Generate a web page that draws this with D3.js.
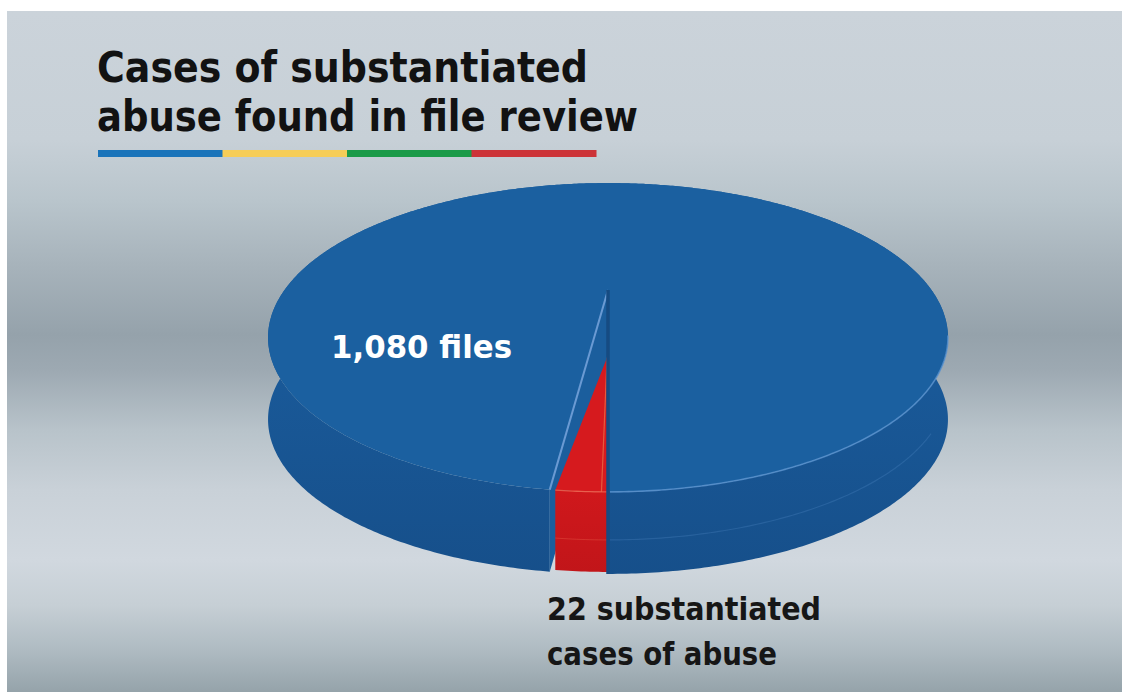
<!DOCTYPE html>
<html>
<head>
<meta charset="utf-8">
<script src="https://cdn.jsdelivr.net/npm/d3@7"></script>
<style>
  html, body { margin: 0; padding: 0; background: #fff; }
  svg { display: block; }
</style>
</head>
<body>
<svg id="chart" width="1122" height="692"></svg>
<script>
// data
const categories = ['Substantiated cases of abuse', 'Files reviewed']
const values = [22, 1080]
const sliceColors = ['#d61a1e', '#1b60a0']
const titleLines = ['Cases of substantiated', 'abuse found in file review']
const barColors = ['#1a74ba', '#f6cd58', '#1b9a48', '#cc3338']
const filesLabel = '1,080 files'
const abuseLabel = ['22 substantiated', 'cases of abuse']

const svg = d3.select('#chart')
const defs = svg.append('defs')

// background: brushed-metal style vertical gradient
const bgStops = [
  [11, '#cbd3da'], [140, '#c7d0d7'], [200, '#b9c5cc'], [265, '#a7b3bb'],
  [335, '#95a2ab'], [370, '#9da9b2'], [430, '#b8c3ca'], [490, '#c9d1d8'],
  [560, '#d1d8df'], [605, '#c6cfd5'], [650, '#afbbc2'], [692, '#95a3aa']
]
const bg = defs.append('linearGradient')
  .attr('id', 'bg')
  .attr('gradientUnits', 'userSpaceOnUse')
  .attr('x1', 0).attr('x2', 0).attr('y1', 11).attr('y2', 692)
bg.selectAll('stop')
  .data(bgStops)
  .join('stop')
  .attr('offset', d => (d[0] - 11) / 681)
  .attr('stop-color', d => d[1])

svg.append('rect')
  .attr('x', 7).attr('y', 11)
  .attr('width', 1115).attr('height', 681)
  .attr('fill', 'url(#bg)')

// title
const font = '"DejaVu Sans Condensed", "DejaVu Sans", sans-serif'
const titleWidths = [491, 541]
svg.append('g')
  .selectAll('text')
  .data(titleLines)
  .join('text')
  .attr('x', 97)
  .attr('y', (d, i) => 82 + i * 49)
  .attr('font-family', font)
  .attr('font-weight', 'bold')
  .attr('font-size', 42)
  .attr('fill', '#121212')
  .attr('textLength', (d, i) => titleWidths[i])
  .attr('lengthAdjust', 'spacingAndGlyphs')
  .text(d => d)

// coloured rule under the title
const barX = d3.scaleBand().domain(d3.range(barColors.length)).range([98, 596])
svg.append('g')
  .selectAll('rect')
  .data(barColors)
  .join('rect')
  .attr('x', (d, i) => barX(i))
  .attr('y', 150)
  .attr('width', barX.bandwidth() + 0.5)
  .attr('height', 7)
  .attr('fill', d => d)

// ---- 3D pie ----
const cx = 608
const apexY = 290
const persp = 0.3074
const tilt = -50.7
const rx = 323.5
const depth = 82

// project a point on the disc (radius r, angle th, 0 = back, clockwise) to screen
function proj (r, th, z) {
  const X = r * Math.sin(th)
  const Y = r * Math.cos(th)
  const w = 1 + persp * Y
  return [cx + rx * X / w, (tilt * Y + apexY) / w + (z || 0)]
}

function rim (a0, a1, z, n) {
  const steps = n || Math.max(4, Math.ceil(Math.abs(a1 - a0) / 0.01))
  return d3.range(steps + 1).map(i => proj(1, a0 + (a1 - a0) * i / steps, z))
}

const pie = d3.pie().sort(null).startAngle(Math.PI).endAngle(3 * Math.PI)
const arcs = pie(values)
const red = arcs[0]
const blue = arcs[1]
const line = d3.line()

const sideGrad = defs.append('linearGradient')
  .attr('id', 'side')
  .attr('gradientUnits', 'userSpaceOnUse')
  .attr('x1', 0).attr('x2', 0).attr('y1', 330).attr('y2', 580)
sideGrad.append('stop').attr('offset', 0).attr('stop-color', '#1a5b9b')
sideGrad.append('stop').attr('offset', 1).attr('stop-color', '#164f8a')

const redSide = defs.append('linearGradient')
  .attr('id', 'redside')
  .attr('gradientUnits', 'userSpaceOnUse')
  .attr('x1', 0).attr('x2', 0).attr('y1', 490).attr('y2', 580)
redSide.append('stop').attr('offset', 0).attr('stop-color', '#d0181c')
redSide.append('stop').attr('offset', 1).attr('stop-color', '#c01519')

const pieG = svg.append('g')

// blue outer wall
const blueSide = rim(blue.startAngle, blue.endAngle, 0)
  .concat(rim(blue.endAngle, blue.startAngle, depth))
pieG.append('path')
  .attr('d', line(blueSide) + 'Z')
  .attr('fill', 'url(#side)')

// blue top face
const blueTop = [proj(0, 0, 0)].concat(rim(blue.startAngle, blue.endAngle, 0))
pieG.append('path')
  .attr('d', line(blueTop) + 'Z')
  .attr('fill', sliceColors[1])

// rim highlights on the right-hand front
const front = blue.endAngle - 2 * Math.PI
pieG.append('path')
  .attr('d', line(rim(Math.PI / 2 + 0.3, front - 0.004, 0)))
  .attr('fill', 'none')
  .attr('stroke', '#5d95d1')
  .attr('stroke-width', 1.6)
  .attr('stroke-opacity', 0.75)
pieG.append('path')
  .attr('d', line(rim(Math.PI / 2 + 0.6, front - 0.004, 48)))
  .attr('fill', 'none')
  .attr('stroke', '#5d95d1')
  .attr('stroke-width', 1.2)
  .attr('stroke-opacity', 0.25)

// blue cut face seen through the gap
const cutFace = [proj(0, 0, 0), proj(1, blue.startAngle, 0),
  proj(1, blue.startAngle, depth), proj(0, 0, depth)]
pieG.append('path')
  .attr('d', line(cutFace) + 'Z')
  .attr('fill', '#1b5e9d')

// red slice: inset wedge sitting inside the gap
const rIn = 0.42
const redA0 = red.startAngle + 0.002
const redA1 = red.endAngle - 0.012
const redApex = proj(rIn, redA0 + 0.004, 0)
const redSidePts = rim(redA0, redA1, 0, 12).concat(rim(redA1, redA0, depth - 2, 12))
pieG.append('path')
  .attr('d', line(redSidePts) + 'Z')
  .attr('fill', 'url(#redside)')
pieG.append('path')
  .attr('d', line([redApex].concat(rim(redA0, redA1, 0, 12))) + 'Z')
  .attr('fill', sliceColors[0])
pieG.append('path')
  .attr('d', line([redApex, proj(1, redA0 + 0.012, 0)]))
  .attr('stroke', '#ea6a45')
  .attr('stroke-width', 1.2)
  .attr('stroke-opacity', 0.8)
pieG.append('path')
  .attr('d', line(rim(redA0, redA1, 0, 12)))
  .attr('fill', 'none')
  .attr('stroke', '#ee6650')
  .attr('stroke-width', 1.3)
  .attr('stroke-opacity', 0.8)
pieG.append('path')
  .attr('d', line(rim(redA0, redA1, 48, 12)))
  .attr('fill', 'none')
  .attr('stroke', '#ee6650')
  .attr('stroke-width', 1)
  .attr('stroke-opacity', 0.35)

// edges of the cut
pieG.append('path')
  .attr('d', line([proj(0, 0, 0), proj(1, blue.startAngle, 0)]))
  .attr('stroke', '#6a9ad3')
  .attr('stroke-width', 2)
pieG.append('path')
  .attr('d', line([proj(0, 0, 0), proj(1, blue.endAngle, 0), proj(1, blue.endAngle, depth)]))
  .attr('fill', 'none')
  .attr('stroke', '#164b82')
  .attr('stroke-width', 3.5)

// labels
svg.append('text')
  .attr('x', 331)
  .attr('y', 358)
  .attr('font-family', font)
  .attr('font-weight', 'bold')
  .attr('font-size', 32)
  .attr('fill', '#ffffff')
  .attr('textLength', 181)
  .attr('lengthAdjust', 'spacingAndGlyphs')
  .text(filesLabel)

const abuseWidths = [274, 230]
svg.append('g')
  .selectAll('text')
  .data(abuseLabel)
  .join('text')
  .attr('x', 547)
  .attr('y', (d, i) => 620 + i * 45)
  .attr('font-family', font)
  .attr('font-weight', 'bold')
  .attr('font-size', 32)
  .attr('fill', '#161616')
  .attr('textLength', (d, i) => abuseWidths[i])
  .attr('lengthAdjust', 'spacingAndGlyphs')
  .text(d => d)
</script>
</body>
</html>
